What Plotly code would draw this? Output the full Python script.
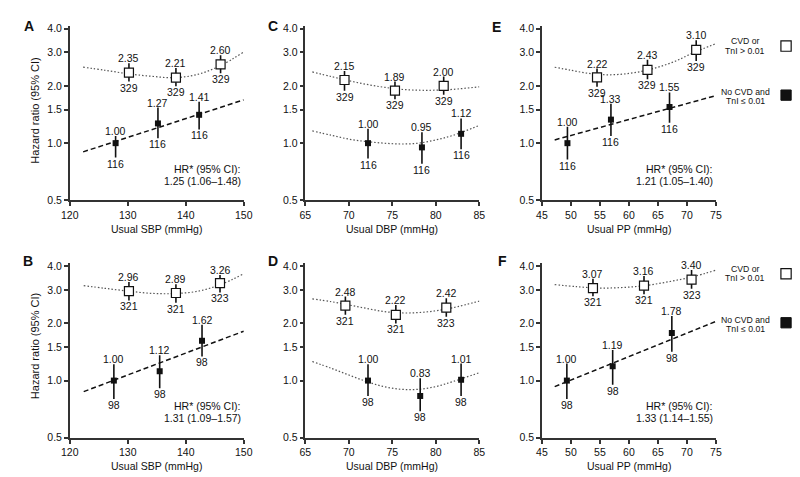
import math
import plotly.graph_objects as go

W, H = 800, 477

# ---------------- data ----------------
# Panel A: SBP (top row)
a_open_x = [130.2, 138.3, 146.0]
a_open_hr = [2.35, 2.21, 2.60]
a_open_lo = [2.11, 1.99, 2.33]
a_open_hi = [2.63, 2.49, 2.90]
a_open_n = [329, 329, 329]
a_fill_x = [127.9, 135.2, 142.3]
a_fill_hr = [1.00, 1.27, 1.41]
a_fill_lo = [0.84, 1.06, 1.18]
a_fill_hi = [1.09, 1.54, 1.65]
a_fill_n = [116, 116, 116]
a_curve_open_x = [122.3, 126, 130, 134, 138, 142, 146, 150]
a_curve_open_y = [2.51, 2.42, 2.32, 2.25, 2.21, 2.30, 2.56, 3.02]
a_curve_fill_x = [122.3, 150]
a_curve_fill_y = [0.90, 1.69]
a_hr_text = ["HR* (95% CI):", "1.25 (1.06\u20131.48)"]

# Panel C: DBP (top row)
c_open_x = [69.5, 75.3, 80.9]
c_open_hr = [2.15, 1.89, 2.00]
c_open_lo = [1.89, 1.70, 1.80]
c_open_hi = [2.40, 2.11, 2.24]
c_open_n = [329, 329, 329]
c_fill_x = [72.2, 78.4, 82.9]
c_fill_hr = [1.00, 0.95, 1.12]
c_fill_lo = [0.83, 0.78, 0.93]
c_fill_hi = [1.19, 1.14, 1.35]
c_fill_n = [116, 116, 116]
c_curve_open_x = [65.8, 68, 70, 72, 74, 76, 78, 80, 82, 85]
c_curve_open_y = [2.37, 2.24, 2.13, 2.04, 1.97, 1.92, 1.90, 1.90, 1.92, 1.98]
c_curve_fill_x = [65.8, 68, 70, 72, 74, 76, 78, 80, 82, 85]
c_curve_fill_y = [1.16, 1.10, 1.05, 1.02, 1.00, 0.99, 1.00, 1.04, 1.10, 1.24]

# Panel E: PP (top row)
e_open_x = [54.5, 63.2, 71.6]
e_open_hr = [2.22, 2.43, 3.10]
e_open_lo = [1.98, 2.17, 2.71]
e_open_hi = [2.47, 2.75, 3.48]
e_open_n = [329, 329, 329]
e_fill_x = [49.4, 56.9, 67.0]
e_fill_hr = [1.00, 1.33, 1.55]
e_fill_lo = [0.82, 1.09, 1.28]
e_fill_hi = [1.22, 1.61, 1.85]
e_fill_n = [116, 116, 116]
e_curve_open_x = [47.2, 50, 53, 56, 59, 62, 65, 68, 71, 75]
e_curve_open_y = [2.51, 2.42, 2.33, 2.29, 2.31, 2.38, 2.51, 2.70, 2.98, 3.34]
e_curve_fill_x = [47.2, 75]
e_curve_fill_y = [1.04, 1.78]
e_hr_text = ["HR* (95% CI):", "1.21 (1.05\u20131.40)"]

# Panel B: SBP (bottom row)
b_open_x = [130.2, 138.3, 145.9]
b_open_hr = [2.96, 2.89, 3.26]
b_open_lo = [2.64, 2.57, 2.91]
b_open_hi = [3.30, 3.21, 3.59]
b_open_n = [321, 321, 323]
b_fill_x = [127.6, 135.5, 142.8]
b_fill_hr = [1.00, 1.12, 1.62]
b_fill_lo = [0.80, 0.91, 1.34]
b_fill_hi = [1.22, 1.36, 1.97]
b_fill_n = [98, 98, 98]
b_curve_open_x = [122.4, 126, 130, 134, 138, 142, 146, 150]
b_curve_open_y = [3.16, 3.06, 2.96, 2.88, 2.87, 2.95, 3.20, 3.65]
b_curve_fill_x = [122.4, 150]
b_curve_fill_y = [0.875, 1.82]
b_hr_text = ["HR* (95% CI):", "1.31 (1.09\u20131.57)"]

# Panel D: DBP (bottom row)
d_open_x = [69.6, 75.4, 81.2]
d_open_hr = [2.48, 2.22, 2.42]
d_open_lo = [2.22, 2.00, 2.17]
d_open_hi = [2.77, 2.50, 2.71]
d_open_n = [321, 321, 323]
d_fill_x = [72.2, 78.2, 82.9]
d_fill_hr = [1.00, 0.83, 1.01]
d_fill_lo = [0.83, 0.69, 0.83]
d_fill_hi = [1.22, 1.03, 1.23]
d_fill_n = [98, 98, 98]
d_curve_open_x = [65.8, 68, 70, 72, 74, 76, 78, 80, 82, 85]
d_curve_open_y = [2.69, 2.60, 2.50, 2.40, 2.31, 2.27, 2.28, 2.33, 2.42, 2.62]
d_curve_fill_x = [65.8, 68, 70, 72, 74, 76, 78, 80, 82, 85]
d_curve_fill_y = [1.26, 1.16, 1.07, 0.99, 0.93, 0.90, 0.90, 0.93, 0.99, 1.10]

# Panel F: PP (bottom row)
f_open_x = [53.8, 62.6, 70.8]
f_open_hr = [3.07, 3.16, 3.40]
f_open_lo = [2.78, 2.85, 3.04]
f_open_hi = [3.44, 3.55, 3.82]
f_open_n = [321, 321, 323]
f_fill_x = [49.3, 57.2, 67.4]
f_fill_hr = [1.00, 1.19, 1.78]
f_fill_lo = [0.80, 0.95, 1.42]
f_fill_hi = [1.23, 1.45, 2.19]
f_fill_n = [98, 98, 98]
f_curve_open_x = [47.2, 51, 55, 59, 63, 67, 71, 75]
f_curve_open_y = [3.20, 3.12, 3.07, 3.09, 3.17, 3.32, 3.52, 3.81]
f_curve_fill_x = [47.2, 75]
f_curve_fill_y = [0.93, 2.05]
f_hr_text = ["HR* (95% CI):", "1.33 (1.14\u20131.55)"]

y_tickvals = [0.5, 1.0, 1.5, 2.0, 3.0, 4.0]
y_ticktext = ["0.5", "1.0", "1.5", "2.0", "3.0", "4.0"]
sbp_ticks = [120, 130, 140, 150]
dbp_ticks = [65, 70, 75, 80, 85]
pp_ticks = [45, 50, 55, 60, 65, 70, 75]
legend_open = ["CVD or", "TnI > 0.01"]
legend_fill = ["No CVD and", "TnI \u2264 0.01"]

# ---------------- layout helpers ----------------
FONT = "Liberation Sans, Arial, Helvetica, sans-serif"
TXT = "#111111"
AX = "#333333"


def px(p):
    return p / W


def py(p):
    return 1 - p / H


cols = [(54, 232), (295, 473), (537, 715)]
rows = [(15, 193), (257, 435)]  # top, bottom pixel of each plot area

panels = [
    dict(letter="A", row=0, col=0, xr=(120, 150), xt=sbp_ticks, xtitle="Usual SBP (mmHg)",
         ox=a_open_x, ohr=a_open_hr, olo=a_open_lo, ohi=a_open_hi, on=a_open_n,
         fx=a_fill_x, fhr=a_fill_hr, flo=a_fill_lo, fhi=a_fill_hi, fn=a_fill_n,
         cox=a_curve_open_x, coy=a_curve_open_y, cfx=a_curve_fill_x, cfy=a_curve_fill_y,
         fill_dash=True, hr=a_hr_text),
    dict(letter="C", row=0, col=1, xr=(65, 85), xt=dbp_ticks, xtitle="Usual DBP (mmHg)",
         ox=c_open_x, ohr=c_open_hr, olo=c_open_lo, ohi=c_open_hi, on=c_open_n,
         fx=c_fill_x, fhr=c_fill_hr, flo=c_fill_lo, fhi=c_fill_hi, fn=c_fill_n,
         cox=c_curve_open_x, coy=c_curve_open_y, cfx=c_curve_fill_x, cfy=c_curve_fill_y,
         fill_dash=False, hr=None),
    dict(letter="E", row=0, col=2, xr=(45, 75), xt=pp_ticks, xtitle="Usual PP (mmHg)",
         ox=e_open_x, ohr=e_open_hr, olo=e_open_lo, ohi=e_open_hi, on=e_open_n,
         fx=e_fill_x, fhr=e_fill_hr, flo=e_fill_lo, fhi=e_fill_hi, fn=e_fill_n,
         cox=e_curve_open_x, coy=e_curve_open_y, cfx=e_curve_fill_x, cfy=e_curve_fill_y,
         fill_dash=True, hr=e_hr_text),
    dict(letter="B", row=1, col=0, xr=(120, 150), xt=sbp_ticks, xtitle="Usual SBP (mmHg)",
         ox=b_open_x, ohr=b_open_hr, olo=b_open_lo, ohi=b_open_hi, on=b_open_n,
         fx=b_fill_x, fhr=b_fill_hr, flo=b_fill_lo, fhi=b_fill_hi, fn=b_fill_n,
         cox=b_curve_open_x, coy=b_curve_open_y, cfx=b_curve_fill_x, cfy=b_curve_fill_y,
         fill_dash=True, hr=b_hr_text),
    dict(letter="D", row=1, col=1, xr=(65, 85), xt=dbp_ticks, xtitle="Usual DBP (mmHg)",
         ox=d_open_x, ohr=d_open_hr, olo=d_open_lo, ohi=d_open_hi, on=d_open_n,
         fx=d_fill_x, fhr=d_fill_hr, flo=d_fill_lo, fhi=d_fill_hi, fn=d_fill_n,
         cox=d_curve_open_x, coy=d_curve_open_y, cfx=d_curve_fill_x, cfy=d_curve_fill_y,
         fill_dash=False, hr=None),
    dict(letter="F", row=1, col=2, xr=(45, 75), xt=pp_ticks, xtitle="Usual PP (mmHg)",
         ox=f_open_x, ohr=f_open_hr, olo=f_open_lo, ohi=f_open_hi, on=f_open_n,
         fx=f_fill_x, fhr=f_fill_hr, flo=f_fill_lo, fhi=f_fill_hi, fn=f_fill_n,
         cox=f_curve_open_x, coy=f_curve_open_y, cfx=f_curve_fill_x, cfy=f_curve_fill_y,
         fill_dash=True, hr=f_hr_text),
]

letter_pos = {"A": (12, 15), "C": (262, 15), "E": (491, 16),
              "B": (11, 255), "D": (262, 255), "F": (497, 255)}

fig = go.Figure()
layout = dict(width=W, height=H, margin=dict(l=0, r=0, t=0, b=0),
              paper_bgcolor="white", plot_bgcolor="white", showlegend=False,
              font=dict(family=FONT, color=TXT, size=10.5))
annotations = []
shapes = []

DOT = "1.5px,2px"
DASH = "5px,3px"
LBL = dict(size=10.5, family=FONT, color=TXT)

for i, p in enumerate(panels, start=1):
    xa = "x" if i == 1 else f"x{i}"
    ya = "y" if i == 1 else f"y{i}"
    xkey = "xaxis" if i == 1 else f"xaxis{i}"
    ykey = "yaxis" if i == 1 else f"yaxis{i}"
    c0, c1 = cols[p["col"]]
    r0, r1 = rows[p["row"]]
    layout[xkey] = dict(domain=[px(c0), px(c1)], anchor=ya, range=list(p["xr"]),
                        tickvals=p["xt"], showline=True, linecolor=AX, linewidth=1.5,
                        ticks="outside", ticklen=4, tickwidth=1.5, tickcolor=AX,
                        showgrid=False, zeroline=False,
                        tickfont=dict(size=10.5, family=FONT, color=TXT))
    layout[ykey] = dict(domain=[py(r1), py(r0)], anchor=xa, type="log",
                        range=[math.log10(0.5), math.log10(4.15)],
                        tickvals=y_tickvals, ticktext=y_ticktext,
                        showline=True, linecolor=AX, linewidth=1.5,
                        ticks="outside", ticklen=4, tickwidth=1.5, tickcolor=AX,
                        showgrid=False, zeroline=False,
                        tickfont=dict(size=10.5, family=FONT, color=TXT))

    # fitted curves
    fig.add_trace(go.Scatter(x=p["cox"], y=p["coy"], mode="lines", xaxis=xa, yaxis=ya,
                             line=dict(color="#555555", width=1.2, dash=DOT, shape="spline"),
                             hoverinfo="skip"))
    if p["fill_dash"]:
        fl = dict(color="#111111", width=1.5, dash=DASH)
    else:
        fl = dict(color="#555555", width=1.2, dash=DOT, shape="spline")
    fig.add_trace(go.Scatter(x=p["cfx"], y=p["cfy"], mode="lines", xaxis=xa, yaxis=ya,
                             line=fl, hoverinfo="skip"))

    # points with CIs
    for gx, ghr, glo, ghi, gn, opn in [
        (p["ox"], p["ohr"], p["olo"], p["ohi"], p["on"], True),
        (p["fx"], p["fhr"], p["flo"], p["fhi"], p["fn"], False),
    ]:
        up = [h - v for h, v in zip(ghi, ghr)]
        dn = [v - l for v, l in zip(ghr, glo)]
        if opn:
            mk = dict(symbol="square", size=9, color="white", line=dict(color="#111111", width=1.2))
        else:
            mk = dict(symbol="square", size=6, color="#111111", line=dict(width=0))
        fig.add_trace(go.Scatter(
            x=gx, y=ghr, mode="markers", xaxis=xa, yaxis=ya, marker=mk,
            error_y=dict(type="data", symmetric=False, array=up, arrayminus=dn,
                         color="#111111", thickness=1.6, width=0),
            hoverinfo="skip", cliponaxis=False))
        for xv, hv, lv, hi, n in zip(gx, ghr, glo, ghi, gn):
            annotations.append(dict(x=xv, y=math.log10(hi), xref=xa, yref=ya,
                                    text=f"{hv:.2f}", showarrow=False, xanchor="center",
                                    yanchor="bottom", yshift=-3, font=LBL))
            annotations.append(dict(x=xv, y=math.log10(lv), xref=xa, yref=ya,
                                    text=str(n), showarrow=False, xanchor="center",
                                    yanchor="top", yshift=2, font=LBL))

    # panel letter
    lx, ly = letter_pos[p["letter"]]
    annotations.append(dict(x=px(lx), y=py(ly), xref="paper", yref="paper", text=f"<b>{p['letter']}</b>",
                            showarrow=False, xanchor="center", yanchor="middle",
                            font=dict(size=14, family=FONT, color=TXT)))
    # x title
    annotations.append(dict(x=px((c0 + c1) / 2), y=py(r1 + 29), xref="paper", yref="paper",
                            text=p["xtitle"], showarrow=False, xanchor="center", yanchor="middle",
                            font=dict(size=10.5, family=FONT, color=TXT)))
    # HR text
    if p["hr"]:
        for k, t in enumerate(p["hr"]):
            annotations.append(dict(x=px(c1 - 1), y=py(r1 - 32 + 12 * k), xref="paper", yref="paper",
                                    text=t, showarrow=False, xanchor="right", yanchor="middle",
                                    font=dict(size=10.5, family=FONT, color=TXT)))

# y axis titles
for cy in [102, 342]:
    annotations.append(dict(x=px(18), y=py(cy), xref="paper", yref="paper",
                            text="Hazard ratio (95% CI)", textangle=-90, showarrow=False,
                            xanchor="center", yanchor="middle",
                            font=dict(size=11, family=FONT, color=TXT)))

# legends (right side)
for base in [0, 232]:
    for k, t in enumerate(legend_open):
        annotations.append(dict(x=px(745), y=py(base + 31 + 9.5 * k), xref="paper", yref="paper",
                                text=t, showarrow=False, xanchor="center", yanchor="middle",
                                font=dict(size=8.7, family=FONT, color=TXT)))
    for k, t in enumerate(legend_fill):
        annotations.append(dict(x=px(745), y=py(base + 82.5 + 9.5 * k), xref="paper", yref="paper",
                                text=t, showarrow=False, xanchor="center", yanchor="middle",
                                font=dict(size=8.7, family=FONT, color=TXT)))
    shapes.append(dict(type="rect", xref="paper", yref="paper",
                       x0=px(781.5), x1=px(792), y0=py(base + 41), y1=py(base + 30.5),
                       line=dict(color="#111111", width=1.2), fillcolor="white"))
    shapes.append(dict(type="rect", xref="paper", yref="paper",
                       x0=px(781.5), x1=px(792), y0=py(base + 91), y1=py(base + 80.5),
                       line=dict(color="#111111", width=1), fillcolor="#111111"))

layout["annotations"] = annotations
layout["shapes"] = shapes
fig.update_layout(**layout)
fig.write_html("out.html")
